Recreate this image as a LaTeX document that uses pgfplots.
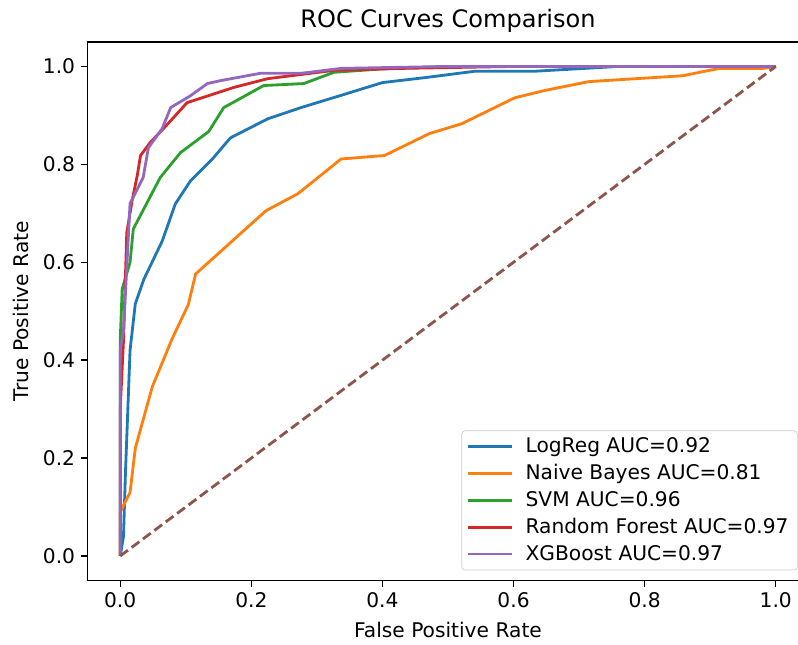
\documentclass[border=0pt]{standalone}
\usepackage{fontspec}
\setmainfont{DejaVu Sans}
\usepackage{pgfplots}
\pgfplotsset{compat=1.18}
\definecolor{c0}{HTML}{1F77B4}
\definecolor{c1}{HTML}{FF7F0E}
\definecolor{c2}{HTML}{2CA02C}
\definecolor{c3}{HTML}{D62728}
\definecolor{c4}{HTML}{9467BD}
\definecolor{c5}{HTML}{8C564B}
\begin{document}
\begin{tikzpicture}
\begin{axis}[
  scale only axis,
  width=410.7pt, height=306.7pt,
  xmin=-0.05, xmax=1.05, ymin=-0.05, ymax=1.05,
  xtick={0,0.2,0.4,0.6,0.8,1.0},
  ytick={0,0.2,0.4,0.6,0.8,1.0},
  /pgf/number format/assume math mode=true,
  /pgf/number format/.cd, fixed, fixed zerofill, precision=1, /pgfplots/.cd,
  tick align=outside, tick pos=left,
  major tick length=3.5pt,
  axis line style={line width=0.8pt},
  every tick/.style={black, line width=0.8pt},
  tick label style={font=\fontsize{11.5}{13.8}\selectfont},
  every axis title shift=0pt,
  title={ROC Curves Comparison},
  title style={at={(axis description cs:0.5,1.026)}, anchor=base, yshift=0pt, font=\fontsize{13.7}{16}\selectfont},
  xlabel={False Positive Rate},
  xlabel style={at={(axis description cs:0.5,-0.106)}, anchor=base, font=\fontsize{11.5}{13.8}\selectfont},
  ylabel={True Positive Rate},
  ylabel style={at={(axis description cs:-0.082,0.5)}, anchor=base, rotate=0, font=\fontsize{11.5}{13.8}\selectfont},
  legend cell align=left,
  legend style={at={(axis description cs:0.985,0.0186)}, anchor=south east,
    draw=black!20, rounded corners=2pt, fill=white,
    font=\fontsize{11.5}{13.8}\selectfont, inner xsep=3pt, inner ysep=2pt,
    row sep=1.2pt,
    /tikz/every odd column/.append style={column sep=5pt}},
  legend image code/.code={\draw[#1, line width=1.4pt] (0cm,0cm) -- (0.88cm,0cm);},
  every axis plot/.append style={line width=1.6pt, line join=round},
]
\addplot[c0] coordinates {(0,0) (0.005,0.04) (0.008,0.17) (0.015,0.42) (0.023,0.515) (0.036,0.565) (0.064,0.643) (0.084,0.719) (0.107,0.766) (0.142,0.813) (0.168,0.854) (0.225,0.893) (0.276,0.916) (0.337,0.941) (0.40,0.967) (0.464,0.977) (0.54,0.99) (0.63,0.99) (0.76,1.0) (1,1)};
\addlegendentry{LogReg AUC=0.92}
\addplot[c1] coordinates {(0,0) (0,0.09) (0.015,0.13) (0.023,0.22) (0.049,0.346) (0.079,0.443) (0.104,0.514) (0.115,0.576) (0.222,0.705) (0.271,0.74) (0.337,0.811) (0.403,0.818) (0.472,0.863) (0.521,0.883) (0.602,0.936) (0.648,0.951) (0.715,0.969) (0.858,0.981) (0.884,0.988) (0.914,0.996) (0.98,0.996) (1,1)};
\addlegendentry{Naive Bayes AUC=0.81}
\addplot[c2] coordinates {(0,0) (0,0.44) (0.003,0.545) (0.015,0.6) (0.02,0.668) (0.061,0.773) (0.092,0.824) (0.135,0.867) (0.158,0.916) (0.219,0.961) (0.28,0.965) (0.326,0.988) (0.4,0.995) (0.5,1.0) (1,1)};
\addlegendentry{SVM AUC=0.96}
\addplot[c3] coordinates {(0,0) (0,0.3) (0.005,0.44) (0.01,0.66) (0.018,0.725) (0.026,0.777) (0.031,0.818) (0.046,0.845) (0.066,0.873) (0.102,0.926) (0.173,0.957) (0.225,0.975) (0.326,0.992) (0.43,0.996) (0.6,1.0) (1,1)};
\addlegendentry{Random Forest AUC=0.97}
\addplot[c4] coordinates {(0,0) (0,0.42) (0.005,0.46) (0.015,0.72) (0.035,0.773) (0.043,0.834) (0.064,0.873) (0.077,0.916) (0.107,0.94) (0.133,0.965) (0.153,0.971) (0.214,0.986) (0.276,0.986) (0.337,0.996) (0.5,1.0) (1,1)};
\addlegendentry{XGBoost AUC=0.97}
\addplot[c5, dash pattern=on 5.5pt off 2.6pt, forget plot] coordinates {(0,0) (1,1)};
\end{axis}
\pgfresetboundingbox
\path ([xshift=-49.8pt,yshift=-36.5pt]current axis.south west) rectangle ([xshift=-6pt,yshift=23.9pt]current axis.north east);
\end{tikzpicture}
\end{document}
